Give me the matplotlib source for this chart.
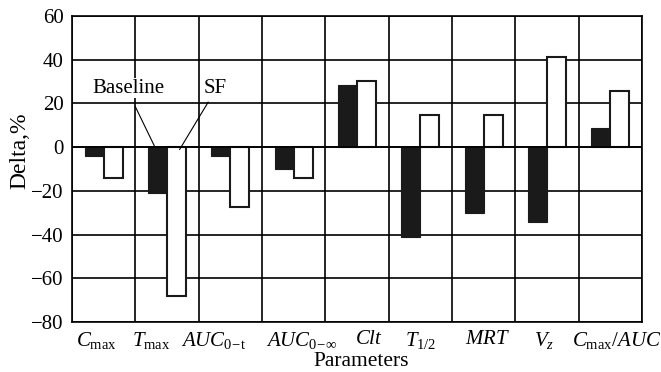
import matplotlib
matplotlib.use("Agg")
import matplotlib.pyplot as plt
import numpy as np

plt.rcParams['font.family'] = ['Liberation Serif', 'DejaVu Serif']
plt.rcParams['mathtext.fontset'] = 'custom'
plt.rcParams['mathtext.rm'] = 'Liberation Serif'
plt.rcParams['mathtext.it'] = 'Liberation Serif:italic'
plt.rcParams['mathtext.bf'] = 'Liberation Serif:bold'

# Data
params = [r'$C_{\mathrm{max}}$', r'$T_{\mathrm{max}}$', r'$AUC_{\mathrm{0\!-\!t}}$',
          r'$AUC_{\mathrm{0\!-\!\infty}}$', r'$Clt$', r'$T_{\mathrm{1/2}}$',
          r'$MRT$', r'$V_z$', r'$C_{\mathrm{max}}/AUC$']
baseline = [-4, -21, -4, -10, 28.5, -41, -30, -34, 8.7]
sf = [-14, -68, -27.5, -14, 30.3, 14.7, 14.7, 41.3, 25.7]
# the labels in the original are not exactly centred under the bars
label_pos = [-0.12, 0.75, 1.74, 3.12, 4.19, 5.0, 6.06, 6.96, 8.1]

fig = plt.figure(figsize=(6.61, 3.72), dpi=100)
ax = fig.add_axes([0.109, 0.134, 0.862, 0.823])

x = np.arange(len(params))
w = 0.3
ax.bar(x - w / 2, baseline, w, color='#1a1a1a', edgecolor='#1a1a1a', linewidth=0.8, zorder=3)
ax.bar(x + w / 2, sf, w, color='white', edgecolor='#1a1a1a', linewidth=1.5, zorder=3)

ax.set_xlim(-0.5, len(params) - 0.5)
ax.set_ylim(-80, 60)
ax.set_yticks(np.arange(-80, 61, 20))
ax.set_yticklabels([str(v).replace('-', '\u2212') for v in range(-80, 61, 20)])
ax.set_xticks(label_pos)
ax.set_xticklabels(params)
ax.tick_params(length=0, labelsize=15, pad=6)

# grid lines: horizontal at every tick, vertical between categories
for yv in range(-80, 61, 20):
    ax.axhline(yv, color='black', lw=1.2, zorder=1)
for xv in np.arange(-0.5, len(params), 1):
    ax.axvline(xv, color='black', lw=1.2, zorder=1)
ax.axhline(0, color='black', lw=1.2, zorder=4)
for s in ax.spines.values():
    s.set_linewidth(1.2)

fig.text(20 / 661, 1 - 151 / 372, 'Delta,%', fontsize=17, rotation=90, ha='center', va='center')
fig.text(361 / 661, 6 / 372, 'Parameters', fontsize=15.5, ha='center', va='baseline')

ax.text(0.385, 27, 'Baseline', fontsize=15, ha='center', va='center', zorder=5,
        bbox=dict(facecolor='white', edgecolor='none', pad=0.5))
ax.plot([0.5, 0.81], [18.5, 0], color='black', lw=0.8, zorder=5)
ax.text(1.76, 27, 'SF', fontsize=15, ha='center', va='center', zorder=5,
        bbox=dict(facecolor='white', edgecolor='none', pad=0.5))
ax.plot([1.65, 1.2], [20.6, -1], color='black', lw=0.8, zorder=5)

fig.savefig('out.png', dpi=100)
